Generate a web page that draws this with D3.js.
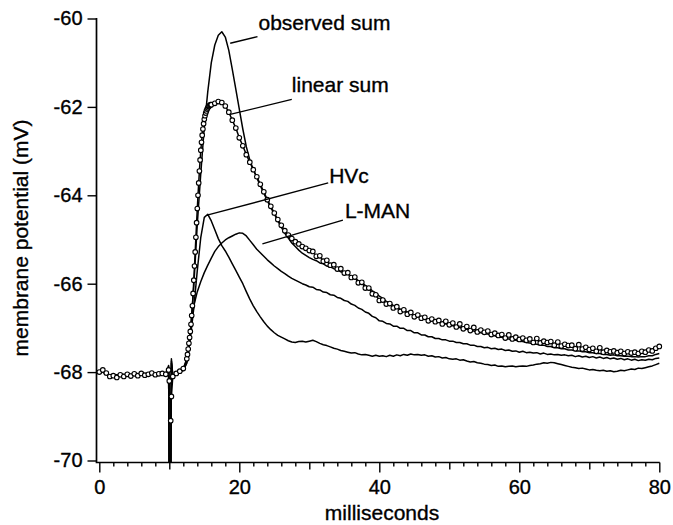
<!DOCTYPE html>
<html>
<head>
<meta charset="utf-8">
<script src="https://cdn.jsdelivr.net/npm/d3@7"></script>
<style>
body { margin: 0; background: #fff; }
svg text { font-family: "Liberation Sans", Arial, sans-serif; fill: #000; stroke: #000; stroke-width: 0.35; }
</style>
</head>
<body>
<div id="chart"></div>
<script>
// sampling grid (ms): 0.5 ms steps, finer around the stimulus artifact at 10 ms
var ms = [].concat(d3.range(0, 9.75, 0.5), [9.9, 10.0, 10.2, 10.3], d3.range(10.5, 80.25, 0.5));
// the linear sum is plotted with 0.1 ms steps on its rising edge
var ms_linear = [].concat(d3.range(0, 9.75, 0.5), [9.9, 10.0, 10.2, 10.3], d3.range(10.5, 12.25, 0.5),
    d3.range(12.5, 15.95, 0.1), d3.range(16, 80.25, 0.5));

// membrane potential (mV)
var linear_sum = [
    -68.00, -67.95, -68.02, -68.10, -68.08, -68.12, -68.06, -68.10, -68.05, -68.09,
    -68.04, -68.08, -68.03, -68.07, -68.05, -68.02, -68.06, -68.04, -68.03, -68.05,
    -67.95, -68.20, -69.10, -68.55,
    -68.10, -68.03, -67.98, -67.92,
    -67.70, -67.60, -67.48, -67.35, -67.22, -67.08, -66.92, -66.72, -66.50, -66.22,
    -65.92, -65.60, -65.28, -64.95, -64.62, -64.30, -64.00, -63.72, -63.45, -63.20,
    -62.98, -62.80, -62.64, -62.50, -62.38, -62.28, -62.20, -62.14, -62.09, -62.05,
    -62.02, -61.99, -61.98, -61.96, -61.95,
    -61.95, -61.92, -61.88, -61.90, -61.98, -62.12, -62.30, -62.48, -62.70,
    -62.88, -63.08, -63.25, -63.42, -63.58, -63.75, -63.92, -64.10, -64.25, -64.40,
    -64.55, -64.68, -64.80, -64.90, -64.98, -65.05, -65.10, -65.16, -65.20, -65.25,
    -65.27, -65.38, -65.37, -65.49, -65.47, -65.58, -65.57, -65.67, -65.66, -65.76,
    -65.75, -65.86, -65.85, -65.98, -65.97, -66.10, -66.10, -66.23, -66.25, -66.38,
    -66.37, -66.46, -66.45, -66.55, -66.52, -66.63, -66.59, -66.69, -66.65, -66.75,
    -66.71, -66.78, -66.76, -66.84, -66.80, -66.86, -66.83, -66.91, -66.85, -66.93,
    -66.89, -66.98, -66.91, -67.02, -66.97, -67.06, -66.99, -67.09, -67.05, -67.10,
    -67.07, -67.15, -67.12, -67.17, -67.15, -67.23, -67.16, -67.25, -67.21, -67.26,
    -67.23, -67.28, -67.25, -67.33, -67.24, -67.34, -67.30, -67.33, -67.31, -67.39,
    -67.32, -67.41, -67.37, -67.40, -67.39, -67.47, -67.38, -67.48, -67.44, -67.49,
    -67.46, -67.53, -67.45, -67.55, -67.51, -67.54, -67.52, -67.56, -67.53, -67.58,
    -67.54, -67.57, -67.55, -67.58, -67.53, -67.55, -67.50, -67.52, -67.46, -67.42
];

var observed_sum = [
    -68.02, -67.97, -68.05, -68.08, -68.10, -68.07, -68.09, -68.06, -68.08, -68.05,
    -68.07, -68.04, -68.06, -68.05, -68.08, -68.04, -68.05, -68.06, -68.03, -68.04,
    -67.85, -70.80, -70.80, -67.75,
    -68.08, -68.02, -67.97, -67.93, -67.72, -67.15, -66.05, -64.65, -63.50, -62.45,
    -61.65, -61.00, -60.60, -60.38, -60.30, -60.42, -60.72, -61.15, -61.60, -62.05,
    -62.50, -62.90, -63.20, -63.42, -63.60, -63.78, -63.95, -64.12, -64.28, -64.42,
    -64.58, -64.72, -64.86, -64.97, -65.08, -65.16, -65.24, -65.31, -65.36, -65.41,
    -65.45, -65.48, -65.53, -65.55, -65.60, -65.62, -65.66, -65.68, -65.73, -65.75,
    -65.78, -65.84, -65.87, -65.93, -65.97, -66.04, -66.09, -66.16, -66.21, -66.28,
    -66.33, -66.40, -66.44, -66.49, -66.52, -66.58, -66.60, -66.64, -66.67, -66.71,
    -66.72, -66.77, -66.78, -66.82, -66.83, -66.86, -66.87, -66.90, -66.91, -66.94,
    -66.95, -66.97, -66.99, -67.02, -67.03, -67.06, -67.07, -67.10, -67.11, -67.13,
    -67.14, -67.17, -67.18, -67.21, -67.21, -67.24, -67.25, -67.27, -67.28, -67.30,
    -67.31, -67.33, -67.34, -67.36, -67.37, -67.39, -67.39, -67.42, -67.42, -67.45,
    -67.45, -67.47, -67.47, -67.50, -67.50, -67.52, -67.52, -67.54, -67.54, -67.56,
    -67.56, -67.58, -67.58, -67.60, -67.60, -67.62, -67.61, -67.63, -67.63, -67.64,
    -67.64, -67.65, -67.65, -67.66, -67.65, -67.65, -67.63, -67.63, -67.60, -67.58
];

var hvc = [
    -68.03, -68.00, -68.06, -68.09, -68.07, -68.10, -68.08, -68.05, -68.07, -68.06,
    -68.04, -68.07, -68.05, -68.06, -68.03, -68.05, -68.04, -68.06, -68.05, -68.02,
    -67.90, -70.80, -70.80, -67.80,
    -68.08, -68.03, -68.00, -67.96, -67.80, -67.25, -66.55, -65.70, -64.95, -64.50,
    -64.43, -64.58, -64.78, -64.98, -65.14, -65.26, -65.40, -65.55, -65.70, -65.85,
    -66.00, -66.18, -66.35, -66.50, -66.63, -66.75, -66.86, -66.96, -67.04, -67.11,
    -67.17, -67.21, -67.25, -67.29, -67.32, -67.33, -67.31, -67.30, -67.32, -67.30,
    -67.28, -67.31, -67.35, -67.38, -67.40, -67.43, -67.46, -67.48, -67.51, -67.53,
    -67.55, -67.57, -67.56, -67.59, -67.61, -67.60, -67.62, -67.64, -67.62, -67.64,
    -67.63, -67.65, -67.62, -67.64, -67.61, -67.63, -67.60, -67.62, -67.59, -67.61,
    -67.60, -67.62, -67.61, -67.64, -67.63, -67.66, -67.65, -67.68, -67.67, -67.70,
    -67.71, -67.70, -67.73, -67.72, -67.75, -67.77, -67.76, -67.79, -67.80, -67.82,
    -67.83, -67.85, -67.84, -67.87, -67.86, -67.88, -67.87, -67.86, -67.88, -67.87,
    -67.86, -67.87, -67.85, -67.84, -67.82, -67.81, -67.79, -67.80, -67.78, -67.79,
    -67.81, -67.83, -67.85, -67.87, -67.89, -67.90, -67.92, -67.91, -67.93, -67.95,
    -67.94, -67.96, -67.97, -67.96, -67.98, -67.97, -67.99, -67.98, -67.96, -67.97,
    -67.95, -67.93, -67.94, -67.91, -67.92, -67.90, -67.88, -67.86, -67.83, -67.80
];

var lman = [
    -68.01, -67.98, -68.04, -68.07, -68.09, -68.06, -68.10, -68.07, -68.06, -68.08,
    -68.05, -68.06, -68.04, -68.07, -68.06, -68.04, -68.05, -68.03, -68.06, -68.04,
    -67.88, -70.80, -70.80, -67.70,
    -68.08, -68.03, -68.00, -67.96, -67.78, -67.10, -66.50, -66.18, -65.95, -65.75,
    -65.58, -65.42, -65.27, -65.16, -65.08, -65.01, -64.96, -64.92, -64.88, -64.85,
    -64.86, -64.92, -65.02, -65.12, -65.22, -65.30, -65.38, -65.46, -65.53, -65.60,
    -65.66, -65.72, -65.77, -65.83, -65.88, -65.92, -65.96, -66.00, -66.03, -66.07,
    -66.08, -66.13, -66.14, -66.19, -66.20, -66.25, -66.26, -66.31, -66.33, -66.38,
    -66.40, -66.46, -66.49, -66.55, -66.58, -66.64, -66.67, -66.74, -66.77, -66.84,
    -66.85, -66.90, -66.91, -66.96, -66.96, -67.01, -67.01, -67.06, -67.06, -67.11,
    -67.11, -67.16, -67.16, -67.20, -67.20, -67.24, -67.24, -67.27, -67.27, -67.30,
    -67.30, -67.33, -67.33, -67.36, -67.36, -67.39, -67.39, -67.42, -67.42, -67.45,
    -67.44, -67.47, -67.46, -67.49, -67.48, -67.51, -67.50, -67.53, -67.52, -67.55,
    -67.53, -67.56, -67.55, -67.57, -67.56, -67.59, -67.57, -67.60, -67.59, -67.61,
    -67.60, -67.62, -67.61, -67.63, -67.62, -67.65, -67.63, -67.66, -67.64, -67.67,
    -67.65, -67.68, -67.66, -67.69, -67.67, -67.70, -67.68, -67.71, -67.69, -67.72,
    -67.70, -67.73, -67.71, -67.74, -67.72, -67.73, -67.71, -67.72, -67.69, -67.68
];

var x_ticks = [0, 20, 40, 60, 80];
var x_ticks_mid = [10, 30, 50, 70];
var y_ticks = [-70, -68, -66, -64, -62, -60];

// annotation labels with their leader lines, in (ms, mV)
var label_names = ['observed sum', 'linear sum', 'HVc', 'L-MAN'];
var label_from  = [[18.7, -60.56], [18.7, -62.17], [15.4, -64.45], [23.3, -65.10]];
var label_to    = [[22.6, -60.41], [27.5, -61.83], [32.7, -63.72], [34.8, -64.56]];

function generate_graph() {
    var width  = 673;
    var height = 525;
    var axis_x = 96.5;
    var axis_y = 462.5;

    var svg = d3.select('#chart')
        .append('svg')
        .attr('width', width)
        .attr('height', height);

    var x_scale = d3.scaleLinear().domain([0, 80]).range([99.3, 659.3]);
    var y_scale = d3.scaleLinear().domain([-70, -60]).range([460.5, 18.5]);

    svg.append('clipPath')
        .attr('id', 'plot-clip')
        .append('rect')
        .attr('x', axis_x)
        .attr('y', 0)
        .attr('width', width - axis_x)
        .attr('height', axis_y);

// Axes
    var y_axis = d3.axisLeft(y_scale)
        .tickValues(y_ticks)
        .tickSize(9)
        .tickPadding(5)
        .tickFormat(function(d) { return String(d); });
    svg.append('g')
        .attr('class', 'y-axis')
        .attr('transform', 'translate(' + axis_x + ',0)')
        .call(y_axis);

    var x_axis_minor = d3.axisBottom(x_scale)
        .tickValues(d3.range(0, 81, 2).filter(function(d) { return d % 10 !== 0; }))
        .tickSize(4)
        .tickFormat('');
    svg.append('g')
        .attr('class', 'x-axis')
        .attr('transform', 'translate(0,' + axis_y + ')')
        .call(x_axis_minor);

    var x_axis_mid = d3.axisBottom(x_scale)
        .tickValues(x_ticks_mid)
        .tickSize(7)
        .tickFormat('');
    svg.append('g')
        .attr('class', 'x-axis')
        .attr('transform', 'translate(0,' + axis_y + ')')
        .call(x_axis_mid);

    var x_axis = d3.axisBottom(x_scale)
        .tickValues(x_ticks)
        .tickSize(10)
        .tickPadding(7);
    svg.append('g')
        .attr('class', 'x-axis')
        .attr('transform', 'translate(0,' + axis_y + ')')
        .call(x_axis);

    svg.selectAll('.domain').remove();
    svg.selectAll('.tick line').attr('stroke', '#000').attr('stroke-width', 1.4);
    svg.selectAll('.tick text')
        .attr('font-family', '"Liberation Sans", Arial, sans-serif')
        .attr('font-size', 20)
        .attr('fill', '#000');

    svg.append('path')
        .attr('d', 'M' + axis_x + ',18V' + axis_y + 'H' + (x_scale(80) + 0.5))
        .attr('fill', 'none')
        .attr('stroke', '#000')
        .attr('stroke-width', 1.7);

    svg.append('text')
        .attr('x', 382)
        .attr('y', 520)
        .attr('text-anchor', 'middle')
        .attr('font-size', 21)
        .text('milliseconds');

    svg.append('text')
        .attr('transform', 'translate(28,238) rotate(-90)')
        .attr('text-anchor', 'middle')
        .attr('font-size', 21)
        .text('membrane potential (mV)');

// Traces
    var plot = svg.append('g').attr('clip-path', 'url(#plot-clip)');
    var line = d3.line()
        .x(function(d) { return x_scale(d[0]); })
        .y(function(d) { return y_scale(d[1]); });

    var traces = [d3.zip(ms, lman), d3.zip(ms, hvc), d3.zip(ms, observed_sum), d3.zip(ms_linear, linear_sum)];
    traces.forEach(function(points) {
        plot.append('path')
            .datum(points)
            .attr('d', line)
            .attr('fill', 'none')
            .attr('stroke', '#000')
            .attr('stroke-width', 1.5)
            .attr('stroke-linejoin', 'round');
    });

    plot.selectAll('circle')
        .data(d3.zip(ms_linear, linear_sum))
        .enter()
        .append('circle')
        .attr('cx', function(d) { return x_scale(d[0]); })
        .attr('cy', function(d) { return y_scale(d[1]); })
        .attr('r', 2.3)
        .attr('fill', '#fff')
        .attr('stroke', '#000')
        .attr('stroke-width', 1.1);

// Labels
    var label_dx = [1, 0, 1, 2];
    var label_dy = [-7, -7, 0, -2];
    label_names.forEach(function(name, i) {
        var x0 = x_scale(label_from[i][0]), y0 = y_scale(label_from[i][1]);
        var x1 = x_scale(label_to[i][0]),   y1 = y_scale(label_to[i][1]);
        svg.append('line')
            .attr('x1', x0).attr('y1', y0)
            .attr('x2', x1).attr('y2', y1)
            .attr('stroke', '#000')
            .attr('stroke-width', 1.4);
        svg.append('text')
            .attr('x', x1 + label_dx[i])
            .attr('y', y1 + label_dy[i])
            .attr('font-size', 21)
            .text(name);
    });
}

generate_graph();
</script>
</body>
</html>
